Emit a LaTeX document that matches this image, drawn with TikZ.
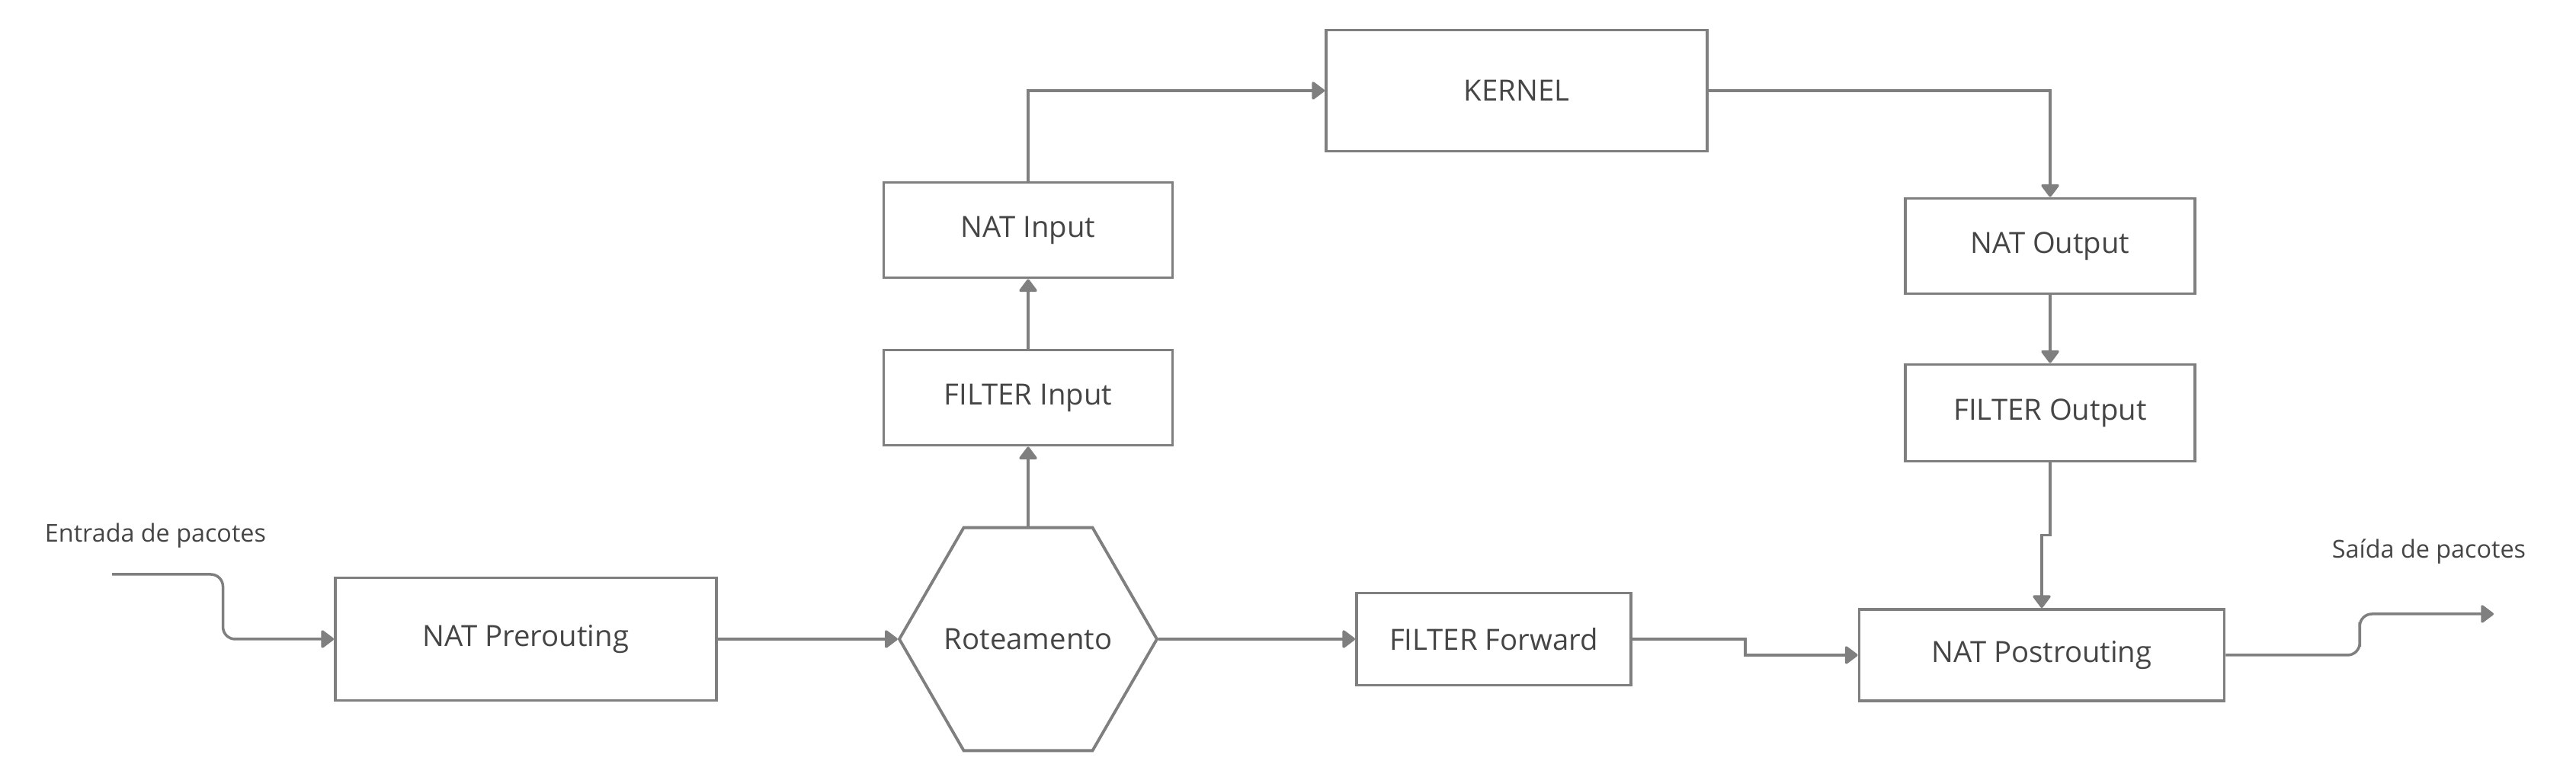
\documentclass[tikz,border=0pt]{standalone}
\usepackage{fontspec}
\setmainfont{Open Sans}
\usepackage{xcolor}
\usetikzlibrary{shapes.geometric,arrows.meta,calc}
\definecolor{linegray}{HTML}{7F7F7F}
\definecolor{textgray}{HTML}{454545}

\begin{document}
\begin{tikzpicture}[
  box/.style={draw=linegray,line width=1.1pt,text=textgray,font=\fontsize{10.9}{13}\selectfont,
    minimum width=#1,inner sep=0pt},
  hexa/.style={draw=linegray,line width=1.1pt,regular polygon,regular polygon sides=6,
    minimum size=3.38cm,inner sep=0pt,
    label={[text=textgray,font=\fontsize{10.9}{13}\selectfont]center:#1}},
  lbl/.style={text=textgray,font=\fontsize{9.2}{11}\selectfont,inner sep=0pt},
  flow/.style={draw=linegray,line width=1pt,-{Triangle[length=0.18cm,width=0.26cm,round]}}
]
\useasboundingbox (0,0) rectangle (33.8,10.2);

% bottom row
\node[box=5cm,minimum height=1.61cm] (pre) at (6.90,1.81) {NAT Prerouting};
\node[hexa=Roteamento] (rot) at (13.49,1.81) {};
\node[box=3.6cm,minimum height=1.21cm] (fwd) at (19.60,1.81) {FILTER Forward};
\node[box=4.79cm,minimum height=1.2cm] (post) at (26.79,1.60) {NAT Postrouting};

% input side
\node[box=3.79cm,minimum height=1.25cm] (fin) at (13.49,4.98) {FILTER Input};
\node[box=3.79cm,minimum height=1.25cm] (nin) at (13.49,7.18) {NAT Input};
\node[box=5cm,minimum height=1.59cm] (kernel) at (19.90,9.01) {KERNEL};

% output side
\node[box=3.8cm,minimum height=1.25cm] (nout) at (26.90,6.97) {NAT Output};
\node[box=3.8cm,minimum height=1.27cm] (fout) at (26.90,4.78) {FILTER Output};

% in / out labels
\node[lbl] (entrada) at (2.04,3.17) {Entrada de pacotes};
\node[lbl] (saida) at (31.87,2.96) {Saída de pacotes};
\coordinate (inpt) at (1.47,2.66);
\coordinate (outpt) at (32.72,2.14);

% connectors
\draw[flow,rounded corners=0.16cm] (inpt) -| ($(inpt)!0.5!(pre.west)$) |- (pre.west);
\draw[flow] (pre.east) -- (rot.west);
\draw[flow] (rot.east) -- (fwd.west);
\draw[flow] (fwd.east) -| ($(fwd.east)!0.5!(post.west)$) |- (post.west);
\draw[flow,rounded corners=0.16cm] (post.east) -| ($(post.east)!0.5!(outpt)$) |- (outpt);
\draw[flow] (rot.north) -- (fin.south);
\draw[flow] (fin.north) -- (nin.south);
\draw[flow] (nin.north) |- (kernel.west);
\draw[flow] (kernel.east) -| (nout.north);
\draw[flow] (nout.south) -- (fout.north);
\draw[flow] (fout.south) |- ($(fout.south)!0.5!(post.north)$) -| (post.north);
\end{tikzpicture}
\end{document}
